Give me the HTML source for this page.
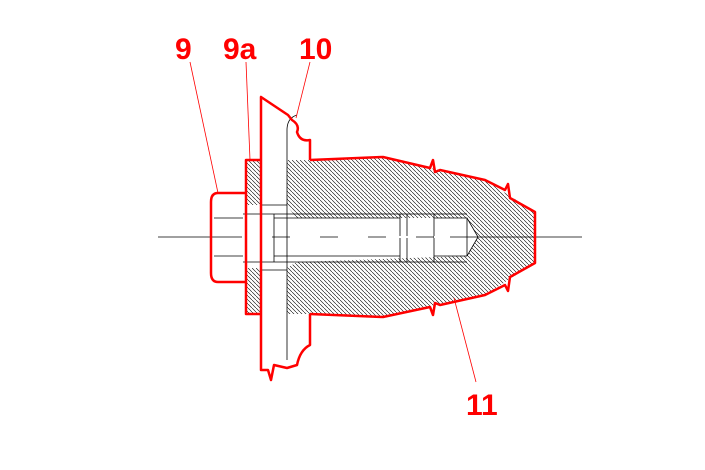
<!DOCTYPE html>
<html><head><style>html,body{margin:0;padding:0;background:#fff}svg{display:block}</style></head>
<body>
<svg width="705" height="470" viewBox="0 0 705 470" xmlns="http://www.w3.org/2000/svg">
<defs>
<pattern id="h" width="4" height="4" patternUnits="userSpaceOnUse">
<path d="M-1,-1 L5,5" stroke="#000" stroke-width="0.6"/>
</pattern>
</defs>
<!-- body 11 hatched -->
<path d="M287,160 L310,160 L383,157 L430,168 L485,180 L535,212 L535,263 L485,295 L430,306 L383,317 L310,314 L287,314 L287,268 L297,262 L467,256 L478,237 L467,218 L297,218 L287,206 Z" fill="url(#h)" stroke="none"/>
<!-- washer -->
<rect x="246" y="160" width="15" height="154" fill="url(#h)"/>
<rect x="246" y="205" width="15" height="63" fill="#fff"/>
<g fill="none" stroke="#000" stroke-width="0.8">
<line x1="287" y1="130" x2="287" y2="360"/>
<path d="M287,130 Q287,118 297,115"/>
<line x1="261" y1="205" x2="287" y2="205"/>
<line x1="261" y1="270" x2="287" y2="270"/>
<line x1="243" y1="214" x2="467" y2="214"/>
<line x1="243" y1="262" x2="467" y2="262"/>
<line x1="274" y1="218" x2="400" y2="218"/>
<line x1="274" y1="256" x2="400" y2="256"/>
<line x1="274" y1="214" x2="274" y2="262"/>
<line x1="400" y1="214" x2="400" y2="262"/>
<line x1="407" y1="214" x2="407" y2="262"/>
<line x1="434" y1="214" x2="434" y2="262"/>
<path d="M434,218 L467,218 L478,237 L467,256 L434,256"/>
<line x1="467" y1="218" x2="467" y2="256"/>
<line x1="214" y1="218" x2="243" y2="218"/>
<line x1="214" y1="256" x2="243" y2="256"/>
<line x1="158" y1="237" x2="582" y2="237" stroke-width="0.7"/>
</g>
<line x1="230" y1="237" x2="450" y2="237" stroke="#fff" stroke-width="2" stroke-dasharray="0 12 30 6"/>
<g fill="none" stroke="#f00" stroke-width="2.5" stroke-linejoin="round">
<!-- body outline -->
<path d="M310,160 L383,157 L430,168 L433,160 L435,172 L440,170 L485,180 L505,190 L508,184 L510,198 L535,212 L535,263 L510,277 L508,291 L505,285 L485,295 L440,305 L435,303 L433,315 L430,307 L383,317 L310,314"/>
<!-- plate -->
<path d="M310,160 L310,140 Q300,142 297,132 Q300,125 292,120 L288,115 L261,97 L261,370 L268,370 L271,380 L274,365 L287,368 L297,365 Q300,350 310,345 L310,314"/>
<!-- washer -->
<path d="M261,160 L246,160 L246,314 L261,314"/>
<!-- head -->
<path d="M246,193 L218,193 Q211,193 211,202 L211,273 Q211,282 218,282 L246,282"/>
</g>
<g stroke="#f00" stroke-width="0.8">
<line x1="190" y1="62" x2="218" y2="193"/>
<line x1="246" y1="62" x2="250" y2="160"/>
<line x1="310" y1="62" x2="296" y2="118"/>
<line x1="454" y1="298" x2="476" y2="382"/>
</g>
<g fill="#f00" font-family="Liberation Sans, sans-serif" font-weight="bold" font-size="30">
<text x="175" y="59">9</text>
<text x="223" y="59">9a</text>
<text x="299" y="59">10</text>
<text x="466" y="415">11</text>
</g>
</svg>
</body></html>
